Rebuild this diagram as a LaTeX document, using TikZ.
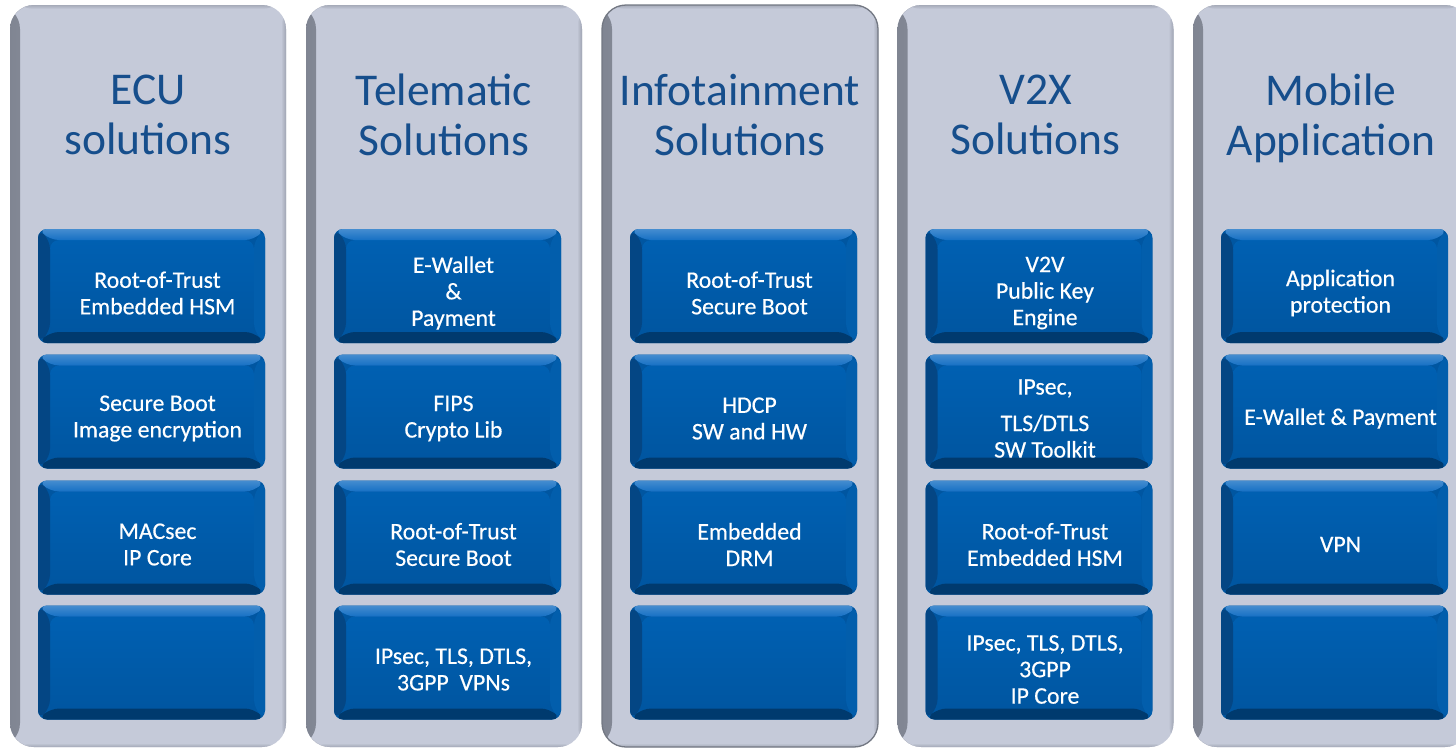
\documentclass[tikz,border=0pt]{standalone}
\usepackage{fontspec}
\setmainfont{Carlito}
\newfontfamily\cellfont[FakeBold=0.4]{Carlito}
\definecolor{panelfill}{RGB}{197,202,217}
\definecolor{paneledge}{RGB}{128,133,146}
\definecolor{titleblue}{RGB}{22,78,140}
\definecolor{face}{RGB}{0,86,161}
\definecolor{facetop}{RGB}{0,96,178}
\definecolor{bevtop}{RGB}{22,112,196}
\definecolor{bevleft}{RGB}{4,70,132}
\definecolor{bevbot}{RGB}{0,58,110}
\definecolor{bevright}{RGB}{2,94,172}

\tikzset{
  panel/.style={minimum width=276pt, minimum height=742pt, inner sep=0pt,
    rounded corners=24pt, fill=panelfill,
    path picture={
      \shade[left color=paneledge, right color=panelfill]
        (path picture bounding box.north west) rectangle ([xshift=10pt]path picture bounding box.south west);
      \shade[left color=panelfill, right color=paneledge!55!panelfill]
        ([xshift=-5pt]path picture bounding box.north east) rectangle (path picture bounding box.south east);
      \shade[top color=paneledge!45!panelfill, bottom color=panelfill]
        (path picture bounding box.north west) rectangle ([yshift=-4pt]path picture bounding box.north east);
      \shade[top color=panelfill, bottom color=paneledge!50!panelfill]
        ([yshift=4pt]path picture bounding box.south west) rectangle (path picture bounding box.south east);
    }},
  framed panel/.style={panel, draw=paneledge!90!black, line width=1.3pt},
  cell/.style={minimum width=227pt, minimum height=114pt, inner sep=0pt,
    rounded corners=9pt, fill=face,
    path picture={
      \path (path picture bounding box.north west) coordinate (nw)
            (path picture bounding box.north east) coordinate (ne)
            (path picture bounding box.south west) coordinate (sw)
            (path picture bounding box.south east) coordinate (se);
      \shade[top color=facetop, bottom color=face]
        ([shift={(12pt,-11pt)}]nw) rectangle ([shift={(-11pt,11pt)}]se);
      \shade[top color=bevtop!80!white, bottom color=bevtop]
        (nw) -- (ne) -- ([shift={(-11pt,-11pt)}]ne) -- ([shift={(12pt,-11pt)}]nw) -- cycle;
      \fill[bevleft]
        (nw) -- ([shift={(12pt,-11pt)}]nw) -- ([shift={(12pt,11pt)}]sw) -- (sw) -- cycle;
      \fill[bevright]
        (ne) -- (se) -- ([shift={(-11pt,11pt)}]se) -- ([shift={(-11pt,-11pt)}]ne) -- cycle;
      \fill[bevbot]
        (sw) -- ([shift={(12pt,11pt)}]sw) -- ([shift={(-11pt,11pt)}]se) -- (se) -- cycle;
    }},
  celltext/.style={text=white, inner sep=0pt, align=center,
    font=\cellfont\fontsize{23.8}{26.5}\selectfont},
  heading/.style={text=titleblue, inner sep=0pt, align=center,
    font=\fontsize{45.5}{50}\selectfont},
}

% one blue button with its caption
\newcommand\cellat[4]{%
  \node[cell] (#1) at (#2,#3) {};
  \node[celltext] (#1t) at ([shift={(6pt,-7pt)}]#1.center) {#4};
}

% one column: index, left edge, panel style, heading, four captions
\newcommand\solcol[8]{%
  \node[#3] (p#1) at (#2+138,376) {};
  \node[heading] (h#1) at (#2+138,118.5) {#4\vphantom{p}};
  \cellat{c#1a}{#2+141.5}{286}{#5}
  \cellat{c#1b}{#2+141.5}{411.5}{#6}
  \cellat{c#1c}{#2+141.5}{537.5}{#7}
  \cellat{c#1d}{#2+141.5}{662.5}{#8}
}

\begin{document}
\begin{tikzpicture}[x=1pt, y=-1pt]
  \useasboundingbox (0,0) rectangle (1456,748);
  \clip (0,0) rectangle (1456,748);
  \fill[white] (0,0) rectangle (1456,748);

  \solcol{1}{10}{panel}{ECU\\solutions}
    {Root-of-Trust\\Embedded HSM}
    {Secure Boot\\Image encryption}
    {MACsec\\IP Core}
    {}
  \solcol{2}{306}{panel}{Telematic\\Solutions}
    {E-Wallet\\\&\\Payment}
    {FIPS\\Crypto Lib}
    {Root-of-Trust\\Secure Boot}
    {IPsec, TLS, DTLS,\\3GPP\ \ VPNs}
  \solcol{3}{602}{framed panel}{Infotainment\\Solutions}
    {Root-of-Trust\\Secure Boot}
    {HDCP\\SW and HW}
    {Embedded\\DRM}
    {}
  \solcol{4}{897.5}{panel}{V2X\\Solutions}
    {V2V\\Public Key\\Engine}
    {IPsec,\\[10pt]TLS/DTLS\\SW Toolkit}
    {Root-of-Trust\\Embedded HSM}
    {IPsec, TLS, DTLS,\\3GPP\\IP Core}
  \solcol{5}{1193}{panel}{Mobile\\Application}
    {Application\\protection}
    {E-Wallet \& Payment}
    {VPN}
    {}
\end{tikzpicture}
\end{document}
